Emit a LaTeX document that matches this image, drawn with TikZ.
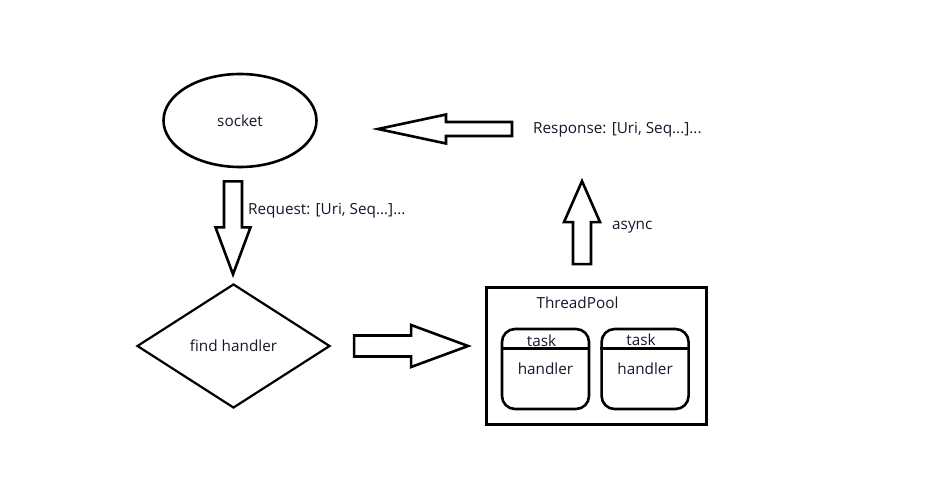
\documentclass[tikz,border=0pt]{standalone}
\usepackage{fontspec}
\setmainfont{Open Sans}
\usetikzlibrary{calc,positioning,shapes.geometric}
\definecolor{txtcol}{RGB}{22,22,44}
% tail, angle, length, shaft half width, head half width, head length
\newcommand{\blockarrow}[6]{%
  \draw[blockarr, shift={(#1)}, rotate=#2]
    (0,-#4) -- ({#3-#6},-#4) -- ({#3-#6},-#5) -- (#3,0)
    -- ({#3-#6},#5) -- ({#3-#6},#4) -- (0,#4) -- cycle;}

\begin{document}
\begin{tikzpicture}[
  x=1pt, y=-1pt,
  font=\fontsize{15.3}{18}\selectfont,
  startnode/.style={ellipse, draw, line width=2.6pt, text=txtcol,
    minimum width=153pt, minimum height=93pt},
  decide/.style={diamond, draw, line width=2.2pt, text=txtcol, inner sep=0pt,
    minimum width=193pt, minimum height=124pt},
  poolbox/.style={draw, line width=2.8pt, minimum width=220pt, minimum height=137pt},
  taskbox/.style={draw, line width=2.6pt, rounded corners=13pt, text=txtcol,
    minimum width=87pt, minimum height=80pt},
  blockarr/.style={draw, line width=2.6pt, line join=miter},
  divline/.style={line width=2.6pt},
  note/.style={inner sep=0pt, text=txtcol}
]
\useasboundingbox (0,0) rectangle (937,498);

\node[startnode] (socket) at (240,120.5) {socket};
\node[decide] (find) at (233.5,346) {find handler};
\node[poolbox] (pool) at (596.5,356) {};
\node[note] (pooltitle) at ($(pool.north)+(-19,17)$) {ThreadPool};

\node[taskbox] (task1) at (545.5,369) {handler};
\node[taskbox, right=10pt of task1] (task2) {handler};
\draw[divline] ($(task1.north west)+(0,21)$) -- ($(task1.north east)+(0,21)$);
\draw[divline] ($(task2.north west)+(0,21)$) -- ($(task2.north east)+(0,21)$);
\node[note] (tasklab1) at ($(task1.north)+(-4,13)$) {task};
\node[note] (tasklab2) at ($(task2.north)+(-4,12)$) {task};

% block arrows
\coordinate (reqtail) at ($(socket.south)+(-7,13)$);
\coordinate (findtail) at ($(find.east)+(23,0)$);
\coordinate (asynctail) at ($(pool.north)+(-14.5,-22)$);
\coordinate (resptail) at (512,129);
\blockarrow{reqtail}{-90}{93}{9}{17.5}{47}
\blockarrow{findtail}{0}{114}{10.5}{21}{57}
\blockarrow{asynctail}{90}{83}{9}{18}{41}
\blockarrow{resptail}{180}{134}{7}{14.5}{68}

\node[note, anchor=west] (reqlab) at ($(reqtail)+(15,29)$) {Request: [Uri, Seq...]...};
\node[note, anchor=west] (asynclab) at ($(asynctail)+(30,-37)$) {async};
\node[note, anchor=west] (resplab) at ($(resptail)+(21,1)$) {Response: [Uri, Seq...]...};
\end{tikzpicture}
\end{document}
